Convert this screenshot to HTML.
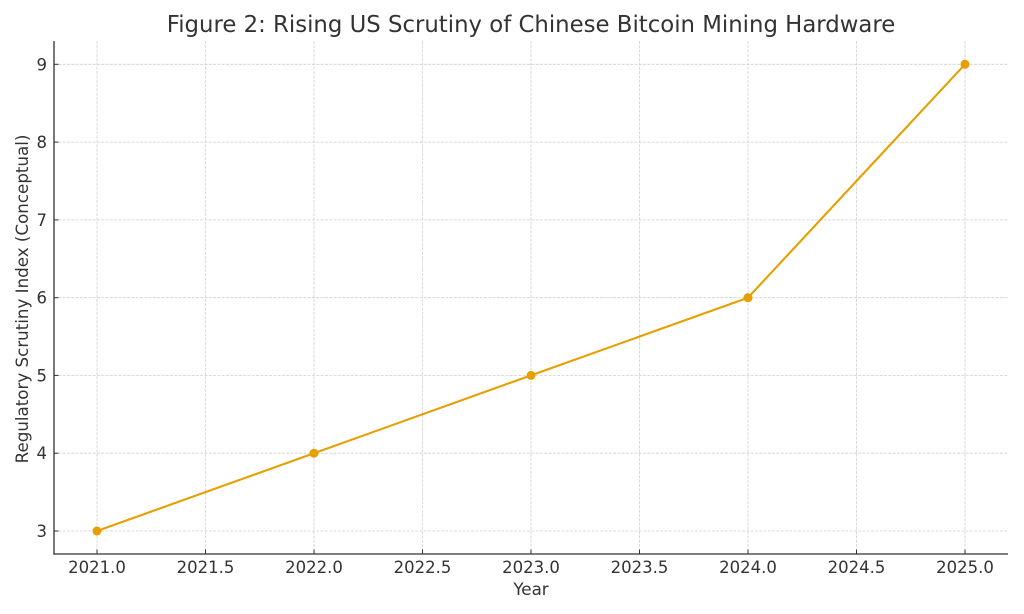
<!DOCTYPE html>
<html>
<head>
<meta charset="utf-8">
<style>
  html, body { margin: 0; padding: 0; background: #ffffff; }
  svg { display: block; }
  text { font-family: "DejaVu Sans", "Liberation Sans", sans-serif; fill: #333333; }
</style>
</head>
<body>
<svg width="1024" height="614" viewBox="0 0 1024 614" xmlns="http://www.w3.org/2000/svg">
  <rect x="0" y="0" width="1024" height="614" fill="#ffffff"/>
  <!-- grid -->
  <g stroke="#d0d0d0" stroke-width="0.8" stroke-dasharray="3,1.3" fill="none">
    <line x1="97" y1="41" x2="97" y2="554"/>
    <line x1="205.5" y1="41" x2="205.5" y2="554"/>
    <line x1="314" y1="41" x2="314" y2="554"/>
    <line x1="422.5" y1="41" x2="422.5" y2="554"/>
    <line x1="531" y1="41" x2="531" y2="554"/>
    <line x1="639.5" y1="41" x2="639.5" y2="554"/>
    <line x1="748" y1="41" x2="748" y2="554"/>
    <line x1="856.5" y1="41" x2="856.5" y2="554"/>
    <line x1="965" y1="41" x2="965" y2="554"/>
    <line x1="54" y1="531" x2="1008" y2="531"/>
    <line x1="54" y1="453.2" x2="1008" y2="453.2"/>
    <line x1="54" y1="375.4" x2="1008" y2="375.4"/>
    <line x1="54" y1="297.7" x2="1008" y2="297.7"/>
    <line x1="54" y1="219.9" x2="1008" y2="219.9"/>
    <line x1="54" y1="142.1" x2="1008" y2="142.1"/>
    <line x1="54" y1="64.3" x2="1008" y2="64.3"/>
  </g>
  <!-- spines -->
  <g stroke="#333333" stroke-width="1.3" fill="none">
    <line x1="54" y1="41" x2="54" y2="554.6"/>
    <line x1="53.4" y1="554" x2="1008" y2="554"/>
  </g>
  <!-- ticks (inward) -->
  <g stroke="#333333" stroke-width="1" fill="none">
    <line x1="97" y1="554" x2="97" y2="549.5"/>
    <line x1="205.5" y1="554" x2="205.5" y2="549.5"/>
    <line x1="314" y1="554" x2="314" y2="549.5"/>
    <line x1="422.5" y1="554" x2="422.5" y2="549.5"/>
    <line x1="531" y1="554" x2="531" y2="549.5"/>
    <line x1="639.5" y1="554" x2="639.5" y2="549.5"/>
    <line x1="748" y1="554" x2="748" y2="549.5"/>
    <line x1="856.5" y1="554" x2="856.5" y2="549.5"/>
    <line x1="965" y1="554" x2="965" y2="549.5"/>
    <line x1="54" y1="531" x2="58.5" y2="531"/>
    <line x1="54" y1="453.2" x2="58.5" y2="453.2"/>
    <line x1="54" y1="375.4" x2="58.5" y2="375.4"/>
    <line x1="54" y1="297.7" x2="58.5" y2="297.7"/>
    <line x1="54" y1="219.9" x2="58.5" y2="219.9"/>
    <line x1="54" y1="142.1" x2="58.5" y2="142.1"/>
    <line x1="54" y1="64.3" x2="58.5" y2="64.3"/>
  </g>
  <!-- x tick labels -->
  <g font-size="16.5" text-anchor="middle">
    <text x="97" y="573">2021.0</text>
    <text x="205.5" y="573">2021.5</text>
    <text x="314" y="573">2022.0</text>
    <text x="422.5" y="573">2022.5</text>
    <text x="531" y="573">2023.0</text>
    <text x="639.5" y="573">2023.5</text>
    <text x="748" y="573">2024.0</text>
    <text x="856.5" y="573">2024.5</text>
    <text x="965" y="573">2025.0</text>
  </g>
  <!-- y tick labels -->
  <g font-size="16.5" text-anchor="end">
    <text x="47" y="537">3</text>
    <text x="47" y="459.2">4</text>
    <text x="47" y="381.4">5</text>
    <text x="47" y="303.7">6</text>
    <text x="47" y="225.9">7</text>
    <text x="47" y="148.1">8</text>
    <text x="47" y="70.3">9</text>
  </g>
  <!-- axis labels -->
  <text x="531" y="595" font-size="16.7" text-anchor="middle">Year</text>
  <text x="0" y="0" font-size="16.7" text-anchor="middle" transform="translate(28,299) rotate(-90)">Regulatory Scrutiny Index (Conceptual)</text>
  <!-- title -->
  <text x="531" y="32" font-size="22.8" text-anchor="middle">Figure 2: Rising US Scrutiny of Chinese Bitcoin Mining Hardware</text>
  <!-- series -->
  <polyline points="97,531 314,453.2 531,375.4 748,297.7 965,64.3" fill="none" stroke="#e69f00" stroke-width="2.1" stroke-linejoin="round" stroke-linecap="round"/>
  <g fill="#e69f00">
    <circle cx="97" cy="531" r="4.5"/>
    <circle cx="314" cy="453.2" r="4.5"/>
    <circle cx="531" cy="375.4" r="4.5"/>
    <circle cx="748" cy="297.7" r="4.5"/>
    <circle cx="965" cy="64.3" r="4.5"/>
  </g>
</svg>
</body>
</html>
